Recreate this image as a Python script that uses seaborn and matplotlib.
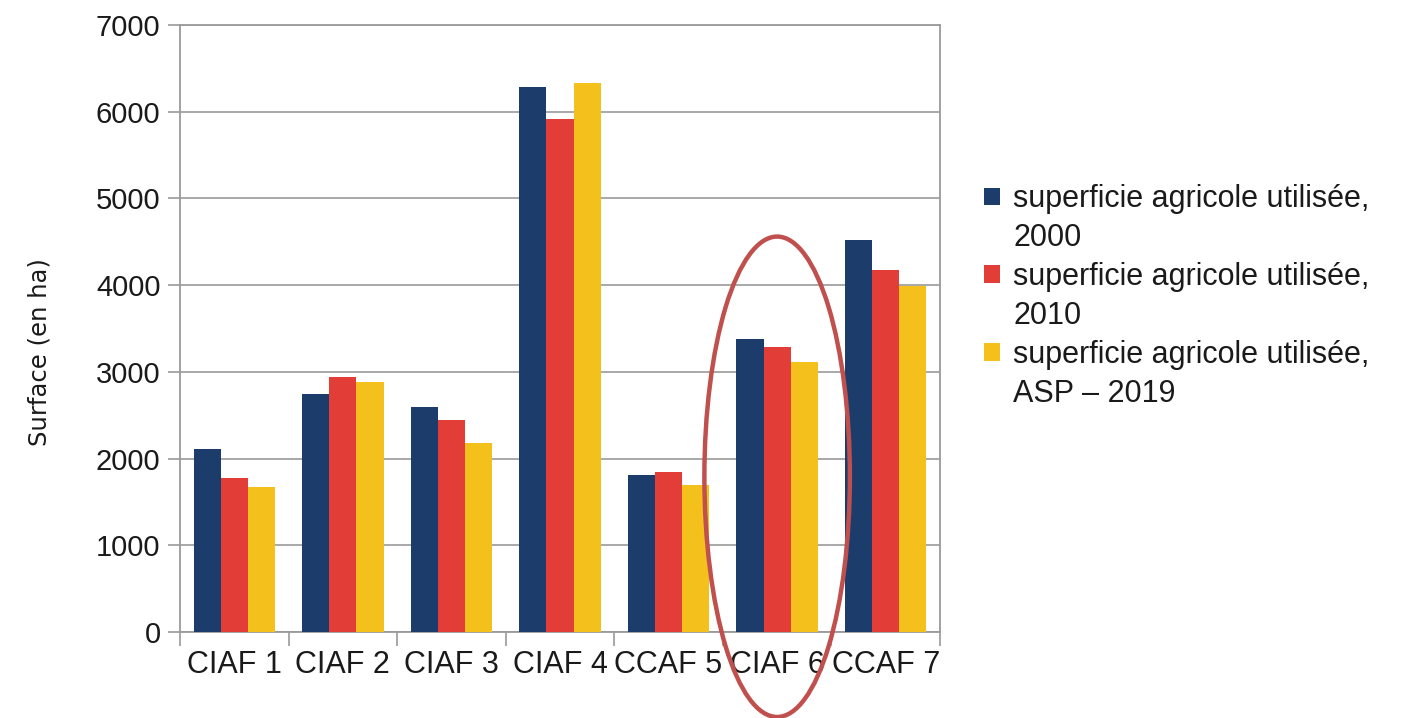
import matplotlib
matplotlib.use("Agg")
import matplotlib.pyplot as plt
from matplotlib.patches import Ellipse, Patch
import numpy as np
import pandas as pd
import seaborn as sns

# Surface agricole utilisée par secteur (ha)
categories = ["CIAF 1", "CIAF 2", "CIAF 3", "CIAF 4", "CCAF 5", "CIAF 6", "CCAF 7"]
sau_2000 = [2115, 2745, 2600, 6290, 1810, 3380, 4520]
sau_2010 = [1780, 2940, 2440, 5920, 1850, 3290, 4170]
sau_2019 = [1670, 2885, 2175, 6335, 1700, 3110, 3990]
series_labels = ["superficie agricole utilisée,\n2000",
                 "superficie agricole utilisée,\n2010",
                 "superficie agricole utilisée,\nASP \u2013 2019"]
y_ticks = [0, 1000, 2000, 3000, 4000, 5000, 6000, 7000]

colors = ["#1c3d6c", "#e23d36", "#f4c11c"]

df = pd.DataFrame({
    "secteur": categories * 3,
    "surface": sau_2000 + sau_2010 + sau_2019,
    "serie": [series_labels[0]] * 7 + [series_labels[1]] * 7 + [series_labels[2]] * 7,
})

sns.set_theme(style="white")
plt.rcParams["font.family"] = ["Liberation Sans", "DejaVu Sans"]

fig = plt.figure(figsize=(14.12, 7.18), dpi=100)
ax = fig.add_axes([0.1275, 0.1198, 0.5382, 0.8454])

sns.barplot(data=df, x="secteur", y="surface", hue="serie",
            hue_order=series_labels, palette=colors, saturation=1,
            width=0.75, gap=0, legend=False, ax=ax, zorder=3,
            linewidth=0, edgecolor="none")

grid_c = "#9a9a9a"
ax.set_ylim(0, 7000)
ax.set_xlim(-0.5, len(categories) - 0.5)
ax.set_yticks(y_ticks)
ax.set_yticklabels([str(v) for v in y_ticks])
ax.yaxis.grid(True, color=grid_c, linewidth=1.2, zorder=0)
ax.xaxis.grid(False)
for s in ax.spines.values():
    s.set_visible(True)
    s.set_color(grid_c)
    s.set_linewidth(1.3)

ax.tick_params(axis="y", which="major", direction="out", length=9, width=1.2,
               color=grid_c, labelsize=21, pad=5, left=True, labelcolor="#1a1a1a")
ax.set_xticks(np.arange(len(categories) + 1) - 0.5, minor=True)
ax.tick_params(axis="x", which="minor", direction="out", length=10, width=1.2,
               color=grid_c, bottom=True)
ax.tick_params(axis="x", which="major", length=0, labelsize=22, pad=13,
               labelcolor="#1a1a1a")
ax.set_xlabel("")
ax.set_ylabel("")

fig.text(40 / 1412, 1 - 352 / 718, "Surface (en ha)", rotation=90,
         ha="center", va="center", fontsize=17.5, color="#1a1a1a",
         family=["DejaVu Sans"])

# Légende : carré de couleur sur la première ligne de chaque libellé
handles, labels = [], []
for c, lab in zip(colors, series_labels):
    first, second = lab.split("\n")
    handles.append(Patch(facecolor=c, edgecolor="none"))
    labels.append(first)
    handles.append(Patch(facecolor="none", edgecolor="none"))
    labels.append(second)
fig.legend(handles, labels, loc="upper left",
           bbox_to_anchor=(972 / 1412, 1 - 172 / 718),
           frameon=False, fontsize=22, handlelength=0.5, handleheight=0.5,
           handletextpad=0.45, labelspacing=0.29, borderaxespad=0,
           labelcolor="#1a1a1a")

# Ellipse de mise en évidence autour de CIAF 6
ell = Ellipse((5.0, 1790), width=1.34, height=5540, fill=False,
              edgecolor="#c0504d", linewidth=3.2, zorder=5, clip_on=False)
ax.add_patch(ell)

fig.savefig("out.png", dpi=100, facecolor="white")
